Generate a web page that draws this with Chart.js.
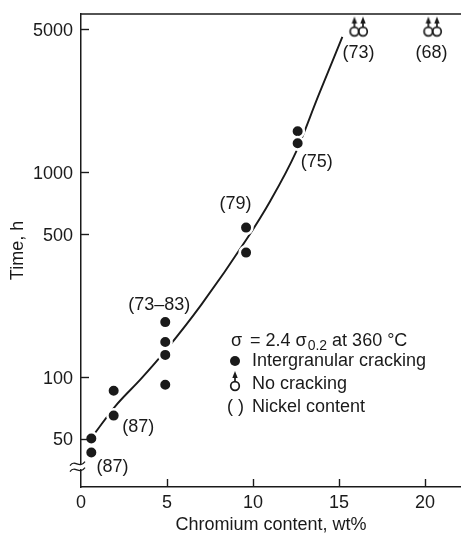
<!DOCTYPE html>
<html><head><meta charset="utf-8">
<script src="https://cdn.jsdelivr.net/npm/chart.js@4/dist/chart.umd.min.js"></script>
<style>html,body{margin:0;padding:0;background:#fff}canvas{display:block}</style>
</head><body>
<canvas id="c" width="461" height="533"></canvas>
<script>
const xTicks = [0, 5, 10, 15, 20];
const yTicks = [50, 100, 500, 1000, 5000];
const crackX = [0.6, 0.6, 1.9, 1.9, 4.9, 4.9, 4.9, 4.9, 9.6, 9.6, 12.6, 12.6];
const crackY = [50, 42.7, 85.5, 64.7, 185, 148, 128, 91.5, 535, 404, 1580, 1380];
const noCrackX = [15.9, 16.4, 20.2, 20.7];
const noCrackY = [4845, 4845, 4845, 4845];
const curveX = [0.8, 2, 3.5, 5, 7, 9.6, 11, 12.5, 13.8, 15.2];
const curveY = [53, 72, 98, 137, 225, 465, 720, 1250, 2350, 4560];
const noteText = ['(87)', '(87)', '(73–83)', '(79)', '(75)', '(73)', '(68)'];
const noteX = [1.83, 3.33, 4.55, 8.99, 13.71, 16.14, 20.38];
const noteY = [36.2, 57.2, 224, 699, 1118, 3820, 3820];

const FONT = '"Liberation Sans", Arial, Helvetica, sans-serif';
const FS = 18;
const INK = '#1a1a1a';

// open circle with upward arrow marker
function makeOpenMarker() {
  const c = document.createElement('canvas');
  c.width = 12; c.height = 32;
  const g = c.getContext('2d');
  g.strokeStyle = INK; g.fillStyle = INK; g.lineWidth = 1.7;
  g.beginPath(); g.arc(6, 16, 4.3, 0, Math.PI * 2); g.stroke();
  g.beginPath(); g.moveTo(6, 12); g.lineTo(6, 6); g.stroke();
  g.beginPath(); g.moveTo(6, 1); g.lineTo(3.3, 8); g.lineTo(8.7, 8); g.closePath(); g.fill();
  return c;
}
const openMarker = makeOpenMarker();

const decor = {
  id: 'decor',
  afterDraw(chart) {
    const {ctx, chartArea: a, scales: {x, y}} = chart;
    ctx.save();
    ctx.strokeStyle = INK; ctx.lineWidth = 1.5;
    // top line
    ctx.beginPath(); ctx.moveTo(a.left, a.top); ctx.lineTo(a.right, a.top); ctx.stroke();
    // inward ticks
    ctx.lineWidth = 1.4;
    xTicks.forEach(v => {
      if (v === 0) return;
      const px = Math.round(x.getPixelForValue(v)) + 0.5;
      ctx.beginPath(); ctx.moveTo(px, a.bottom); ctx.lineTo(px, a.bottom - 8); ctx.stroke();
    });
    yTicks.forEach(v => {
      const py = Math.round(y.getPixelForValue(v)) + 0.5;
      ctx.beginPath(); ctx.moveTo(a.left, py); ctx.lineTo(a.left + 8, py); ctx.stroke();
    });
    // axis break
    const by = y.getPixelForValue(36.5);
    ctx.fillStyle = '#fff';
    ctx.fillRect(a.left - 2, by - 2.5, 4, 5);
    ctx.strokeStyle = INK; ctx.lineWidth = 1.3;
    [-3, 3].forEach(d => {
      const yy = by + d;
      ctx.beginPath();
      ctx.moveTo(a.left - 11, yy + 2);
      ctx.bezierCurveTo(a.left - 6, yy - 5, a.left - 2, yy + 6, a.left + 4, yy - 2);
      ctx.stroke();
    });
    // notes
    ctx.fillStyle = INK;
    ctx.font = FS + 'px ' + FONT;
    ctx.textAlign = 'center'; ctx.textBaseline = 'middle';
    noteText.forEach((t, i) => {
      ctx.fillText(t, x.getPixelForValue(noteX[i]), y.getPixelForValue(noteY[i]));
    });
    // legend block
    const lx = a.left + 150;
    ctx.textAlign = 'left'; ctx.textBaseline = 'alphabetic';
    ctx.fillText('σ', lx, 346);
    let cx = lx + 19;
    const s1 = '= 2.4 σ';
    ctx.fillText(s1, cx, 346);
    cx += ctx.measureText(s1).width + 1;
    ctx.font = '14px ' + FONT;
    ctx.fillText('0.2', cx, 350);
    cx += ctx.measureText('0.2').width;
    ctx.font = FS + 'px ' + FONT;
    ctx.fillText(' at 360 °C', cx, 346);
    ctx.fillText('Intergranular cracking', lx + 21, 366);
    ctx.fillText('No cracking', lx + 21, 389);
    ctx.fillText('( )', lx - 4, 412);
    ctx.fillText('Nickel content', lx + 21, 412);
    ctx.beginPath(); ctx.arc(lx + 4, 361, 5, 0, Math.PI * 2); ctx.fill();
    ctx.drawImage(openMarker, lx + 4 - 6, 386 - 16);
    ctx.restore();
  }
};

new Chart(document.getElementById('c'), {
  type: 'scatter',
  data: {
    datasets: [
      {
        label: 'Intergranular cracking',
        data: crackX.map((v, i) => ({x: v, y: crackY[i]})),
        pointRadius: 6.3, pointHoverRadius: 6.3,
        backgroundColor: INK, borderColor: '#fff', borderWidth: 2.6,
        order: 0
      },
      {
        label: 'No cracking',
        data: noCrackX.map((v, i) => ({x: v, y: noCrackY[i]})),
        pointStyle: openMarker, pointRadius: 6,
        order: 0
      },
      {
        type: 'line',
        label: 'curve',
        data: curveX.map((v, i) => ({x: v, y: curveY[i]})),
        borderColor: INK, borderWidth: 1.9, pointRadius: 0,
        tension: 0.4, cubicInterpolationMode: 'monotone', fill: false,
        order: 2
      }
    ]
  },
  options: {
    responsive: false, animation: false,
    layout: {autoPadding: false, padding: {top: 14, right: 0, bottom: 0, left: 0}},
    plugins: {legend: {display: false}, tooltip: {enabled: false}},
    scales: {
      x: {
        type: 'linear', min: 0, max: 22.1,
        afterFit: s => { s.height = 46; s.paddingLeft = 0; s.paddingRight = 0; },
        afterBuildTicks: s => { s.ticks = xTicks.map(v => ({value: v})); },
        grid: {display: false, drawTicks: false},
        border: {display: true, color: INK, width: 1.5},
        ticks: {color: INK, font: {family: FONT, size: FS}, padding: 5, autoSkip: false, maxRotation: 0,
          callback: v => String(v)},
        title: {display: true, text: 'Chromium content, wt%', color: INK,
          font: {family: FONT, size: FS, lineHeight: 1}, padding: {top: 0, bottom: -1}}
      },
      y: {
        type: 'logarithmic', min: 29, max: 5900,
        afterFit: s => { s.width = 81; s.paddingTop = 0; s.paddingBottom = 0; },
        afterBuildTicks: s => { s.ticks = yTicks.map(v => ({value: v})); },
        grid: {display: false, drawTicks: false},
        border: {display: true, color: INK, width: 1.5},
        ticks: {color: INK, font: {family: FONT, size: FS}, padding: 8, autoSkip: false, labelOffset: 2,
          callback: v => String(v)},
        title: {display: true, text: 'Time, h', color: INK,
          font: {family: FONT, size: FS, lineHeight: 1}, padding: {top: 9, bottom: 0}}
      }
    }
  },
  plugins: [decor]
});
</script>
</body></html>
